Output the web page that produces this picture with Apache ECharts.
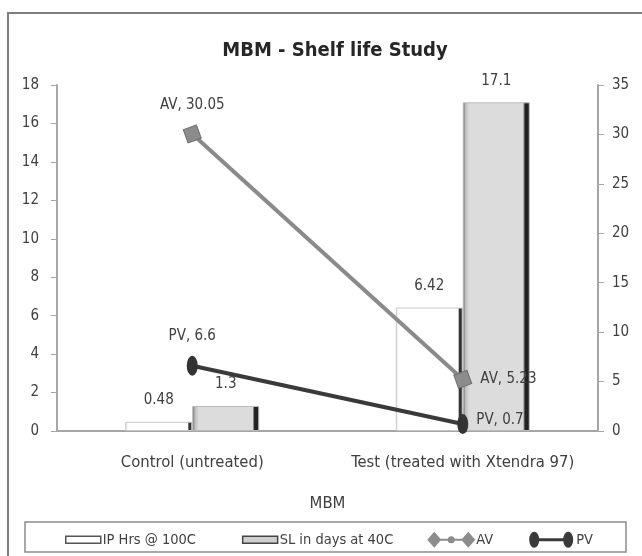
<!DOCTYPE html>
<html>
<head>
<meta charset="utf-8">
<script src="https://cdn.jsdelivr.net/npm/echarts@6/dist/echarts.min.js"></script>
<style>html,body{margin:0;padding:0;background:#fff}#c{width:642px;height:556px}</style>
</head>
<body>
<div id="c"></div>
<script>
const categories = ['Control (untreated)', 'Test (treated with Xtendra 97)'];
const ipHrs = [0.48, 6.42];
const slDays = [1.3, 17.1];
const av = [30.05, 5.23];
const pv = [6.6, 0.7];
const seriesNames = ['IP Hrs @ 100C', 'SL in days at 40C', 'AV', 'PV'];
const titleText = 'MBM - Shelf life Study';
const axisName = 'MBM';

const FONT = '"Liberation Sans Narrow", "DejaVu Sans Condensed", "Open Sans", sans-serif';
const chart = echarts.init(document.getElementById('c'));
const lblStyle = {fontFamily: FONT, fontSize: 15, color: '#404040'};
const catStyle = {fontFamily: FONT, fontSize: 16.5, color: '#404040'};

// legend icon shapes (48 x 16 frame)
const barIcon = 'path://M0,0Z M48,16Z M12,4.5H47V11.5H12Z';
const avIcon = 'path://M0,8L7,0L14,8L7,16Z M13,7H35V9H13Z M34,8L41,0L48,8L41,16Z M20.5,8A3.5,3.5 0 1,1 27.5,8A3.5,3.5 0 1,1 20.5,8Z';
const pvIcon = 'path://M2,8A5,8 0 1,1 12,8A5,8 0 1,1 2,8Z M11,6.5H37V9.5H11Z M36,8A5,8 0 1,1 46,8A5,8 0 1,1 36,8Z M0,0Z M48,16Z';

chart.setOption({
  animation: false,
  backgroundColor: '#fff',
  title: {
    text: titleText, left: 330, top: 36, textAlign: 'center',
    textStyle: {fontFamily: FONT, fontSize: 20, fontWeight: 'bold', color: '#262626'}
  },
  grid: {left: 57, right: 44, top: 85, bottom: 125},
  graphic: [
    {type: 'rect', shape: {x: 8, y: 13, width: 700, height: 600}, style: {fill: 'none', stroke: '#7f7f7f', lineWidth: 2}, z: -1},
    {type: 'rect', shape: {x: 25, y: 522, width: 601, height: 30}, style: {fill: 'none', stroke: '#8c8c8c', lineWidth: 1.5}, z: -1}
  ],
  legend: {
    left: 48, top: 526,
    itemGap: 34,
    itemWidth: 48, itemHeight: 16,
    symbolKeepAspect: false,
    textStyle: {fontFamily: FONT, fontSize: 14.5, color: '#404040', padding: [0, 0, 0, -4]},
    data: [
      {name: seriesNames[0], icon: barIcon, itemStyle: {color: '#fff', borderColor: '#555', borderWidth: 1.5}},
      {name: seriesNames[1], icon: barIcon, itemStyle: {color: '#cfcfcf', borderColor: '#444', borderWidth: 1.5}},
      {name: seriesNames[2], icon: avIcon, itemStyle: {color: '#8c8c8c', borderWidth: 0}},
      {name: seriesNames[3], icon: pvIcon, itemStyle: {color: '#3a3a3a', borderWidth: 0}}
    ]
  },
  xAxis: {
    type: 'category', data: categories,
    name: axisName, nameLocation: 'middle', nameGap: 64,
    nameTextStyle: catStyle,
    axisLine: {lineStyle: {color: '#a6a6a6', width: 2}},
    axisTick: {show: false},
    axisLabel: Object.assign({margin: 23, interval: 0, hideOverlap: false}, catStyle)
  },
  yAxis: [
    {
      type: 'value', min: 0, max: 18, interval: 2,
      axisLine: {show: true, lineStyle: {color: '#a6a6a6', width: 2}},
      axisTick: {show: true, length: 6, lineStyle: {color: '#a6a6a6'}},
      splitLine: {show: false},
      axisLabel: Object.assign({margin: 18}, lblStyle)
    },
    {
      type: 'value', min: 0, max: 35, interval: 5, position: 'right',
      axisLine: {show: true, lineStyle: {color: '#a6a6a6', width: 2}},
      axisTick: {show: true, length: 6, lineStyle: {color: '#a6a6a6'}},
      splitLine: {show: false},
      axisLabel: Object.assign({margin: 14}, lblStyle)
    }
  ],
  series: [
    {
      name: seriesNames[0], type: 'bar', yAxisIndex: 0, data: ipHrs,
      barWidth: 67, barGap: '0%',
      itemStyle: {
        color: {type: 'linear', x: 0, y: 0, x2: 1, y2: 0, colorStops: [
          {offset: 0, color: '#e6e6e6'}, {offset: 0.05, color: '#ffffff'},
          {offset: 0.93, color: '#ffffff'}, {offset: 0.95, color: '#333'}, {offset: 1, color: '#333'}]},
        borderColor: '#c8c8c8', borderWidth: 1
      },
      label: Object.assign({show: true, position: 'top', distance: 14}, lblStyle)
    },
    {
      name: seriesNames[1], type: 'bar', yAxisIndex: 0, data: slDays,
      barWidth: 67, barGap: '0%',
      itemStyle: {
        color: {type: 'linear', x: 0, y: 0, x2: 1, y2: 0, colorStops: [
          {offset: 0, color: '#555'}, {offset: 0.04, color: '#bdbdbd'}, {offset: 0.1, color: '#dcdcdc'},
          {offset: 0.9, color: '#dcdcdc'}, {offset: 0.93, color: '#222'}, {offset: 1, color: '#222'}]},
        borderColor: '#bbb', borderWidth: 1
      },
      label: Object.assign({show: true, position: 'top', distance: 14}, lblStyle)
    },
    {
      name: seriesNames[2], type: 'line', yAxisIndex: 1, data: av.map((v, i) => ({
        value: v,
        label: i === 0 ? {position: 'top', distance: 12} : {position: 'right', distance: 8}
      })),
      symbol: 'rect', symbolSize: 14, symbolRotate: 20,
      lineStyle: {color: '#8a8a8a', width: 4},
      itemStyle: {color: '#8c8c8c', borderColor: '#6e6e6e', borderWidth: 1},
      label: Object.assign({show: true, formatter: '{a}, {c}'}, lblStyle),
      z: 5
    },
    {
      name: seriesNames[3], type: 'line', yAxisIndex: 1, data: pv.map((v, i) => ({
        value: v,
        label: i === 0 ? {position: 'top', distance: 12} : {position: 'right', distance: 8, offset: [0, -4]}
      })),
      symbol: 'circle', symbolSize: [11, 20],
      lineStyle: {color: '#3a3a3a', width: 4},
      itemStyle: {color: '#333'},
      label: Object.assign({show: true, formatter: '{a}, {c}'}, lblStyle),
      z: 6
    }
  ]
});
</script>
</body>
</html>
